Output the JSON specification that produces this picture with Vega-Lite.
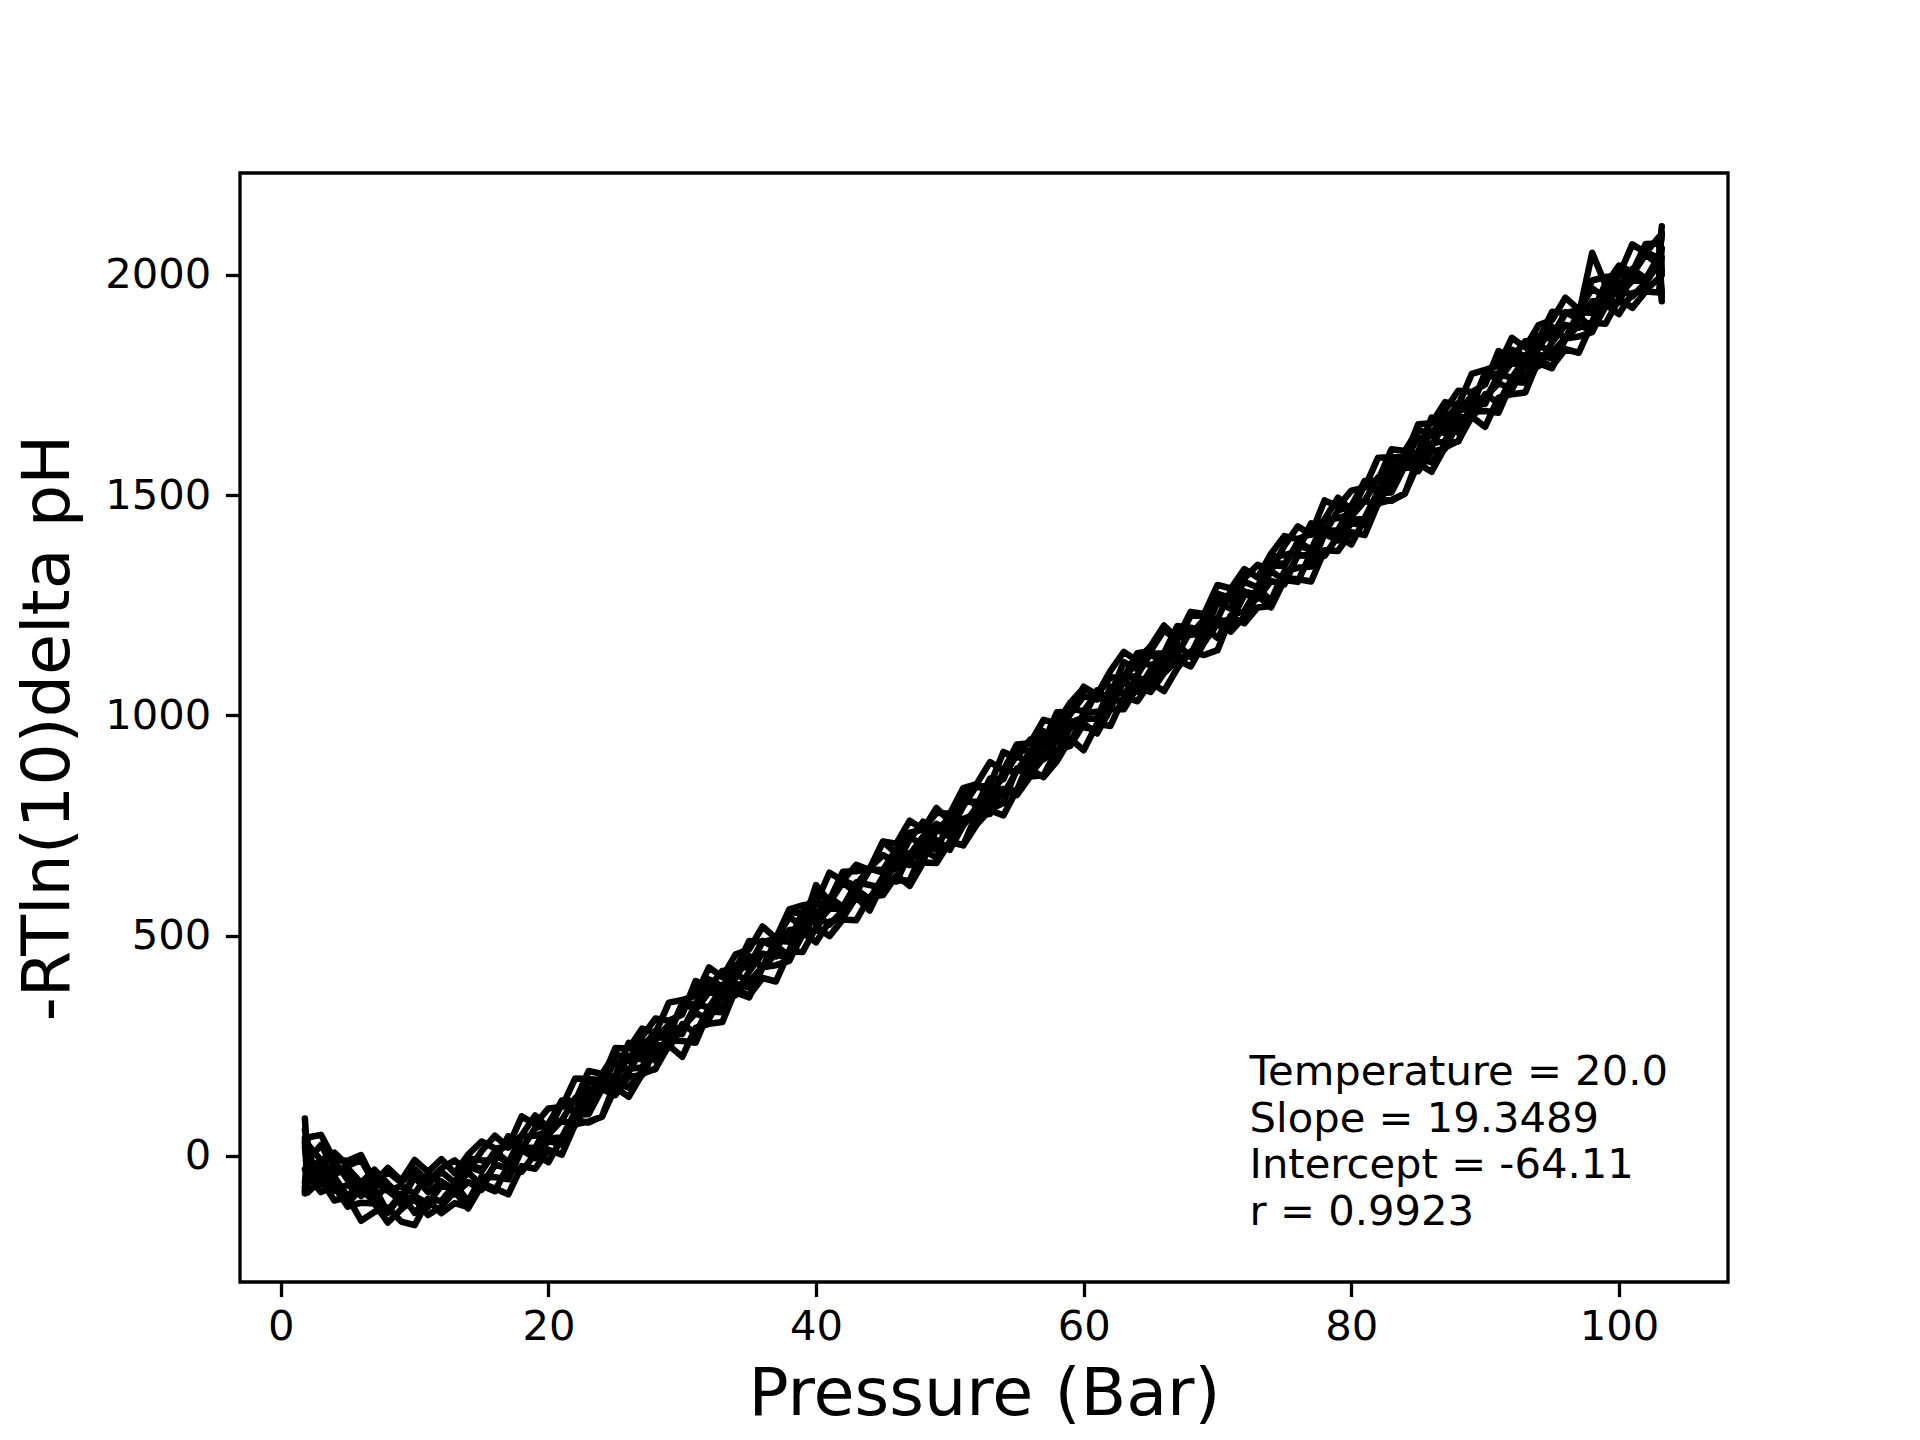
{
  "$schema": "https://vega.github.io/schema/vega-lite/v6.json",
  "width": 1488,
  "height": 1109,
  "autosize": {"type": "none"},
  "padding": {"left": 240, "top": 173, "right": 192, "bottom": 158},
  "background": "white",
  "config": {
    "view": {"stroke": "black", "strokeWidth": 3.3},
    "font": "DejaVu Sans",
    "axis": {
      "domain": false,
      "grid": false,
      "ticks": true,
      "tickColor": "black",
      "tickSize": 14.6,
      "tickWidth": 3.3,
      "labelFont": "DejaVu Sans",
      "labelFontSize": 41.7,
      "labelColor": "black",
      "labelPadding": 14.6,
      "titleFont": "DejaVu Sans",
      "titleFontSize": 66.7,
      "titleFontWeight": "normal",
      "titleColor": "black"
    }
  },
  "data": {
    "values": [
      {"x": 1.8, "a": -80, "b": 40, "c": 85, "d": -60, "e": 20, "f": -85, "g": 60, "h": -30, "i": 30, "j": -70},
      {"x": 2, "a": 42, "b": -83, "c": -12, "d": -23, "e": -26, "f": 6, "g": 27, "h": -45, "i": -27, "j": -43},
      {"x": 3, "a": 48, "b": -54, "c": 25, "d": -64, "e": -14, "f": -48, "g": -10, "h": -82, "i": -12, "j": -18},
      {"x": 4, "a": -9, "b": -101, "c": -28, "d": -59, "e": -42, "f": -47, "g": 8, "h": -69, "i": -11, "j": -79},
      {"x": 5, "a": -11, "b": -93, "c": -28, "d": -107, "e": -27, "f": -92, "g": -22, "h": -115, "i": -54, "j": -65},
      {"x": 6, "a": 2, "b": -147, "c": -61, "d": -75, "e": -90, "f": -60, "g": -9, "h": -106, "i": -77, "j": -90},
      {"x": 7, "a": -59, "b": -127, "c": -31, "d": -104, "e": -58, "f": -95, "g": -63, "h": -108, "i": -35, "j": -72},
      {"x": 8, "a": -27, "b": -117, "c": -63, "d": -124, "e": -79, "f": -69, "g": -36, "h": -151, "i": -79, "j": -129},
      {"x": 9, "a": -56, "b": -149, "c": -93, "d": -86, "e": -101, "f": -111, "g": -60, "h": -121, "i": -68, "j": -89},
      {"x": 10, "a": -9, "b": -157, "c": -43, "d": -129, "e": -48, "f": -91, "g": -29, "h": -97, "i": -86, "j": -101},
      {"x": 11, "a": -36, "b": -100, "c": -64, "d": -97, "e": -82, "f": -108, "g": -57, "h": -134, "i": -41, "j": -116},
      {"x": 12, "a": -7, "b": -130, "c": -36, "d": -102, "e": -58, "f": -67, "g": -28, "h": -115, "i": -59, "j": -58},
      {"x": 13, "a": -39, "b": -107, "c": -61, "d": -64, "e": -80, "f": -74, "g": -10, "h": -80, "i": -77, "j": -87},
      {"x": 14, "a": 3, "b": -116, "c": -5, "d": -103, "e": -24, "f": -37, "g": -35, "h": -119, "i": -18, "j": -59},
      {"x": 15, "a": 33, "b": -62, "c": -10, "d": -47, "e": -35, "f": -67, "g": 11, "h": -67, "i": -30, "j": -77},
      {"x": 16, "a": 17, "b": -74, "c": -10, "d": -48, "e": 11, "f": -20, "g": 46, "h": -80, "i": 4, "j": -19},
      {"x": 17, "a": 21, "b": -87, "c": 45, "d": -53, "e": -14, "f": -27, "g": 19, "h": -21, "i": -16, "j": -29},
      {"x": 18, "a": 90, "b": -23, "c": 16, "d": 14, "e": 20, "f": 18, "g": 47, "h": -36, "i": 45, "j": 20},
      {"x": 19, "a": 72, "b": -29, "c": 63, "d": -5, "e": 18, "f": 5, "g": 92, "h": 5, "i": 46, "j": 0},
      {"x": 20, "a": 108, "b": 14, "c": 73, "d": 34, "e": 74, "f": 49, "g": 64, "h": -14, "i": 55, "j": 40},
      {"x": 21, "a": 111, "b": 3, "c": 125, "d": 26, "e": 81, "f": 81, "g": 126, "h": 40, "i": 119, "j": 42},
      {"x": 22, "a": 176, "b": 72, "c": 99, "d": 95, "e": 131, "f": 69, "g": 124, "h": 81, "i": 98, "j": 100},
      {"x": 23, "a": 175, "b": 78, "c": 166, "d": 95, "e": 112, "f": 126, "g": 193, "h": 76, "i": 150, "j": 108},
      {"x": 24, "a": 172, "b": 89, "c": 176, "d": 152, "e": 170, "f": 172, "g": 186, "h": 90, "i": 162, "j": 158},
      {"x": 25, "a": 245, "b": 155, "c": 182, "d": 138, "e": 174, "f": 156, "g": 233, "h": 168, "i": 216, "j": 140},
      {"x": 26, "a": 244, "b": 134, "c": 257, "d": 180, "e": 227, "f": 192, "g": 216, "h": 155, "i": 190, "j": 198},
      {"x": 27, "a": 289, "b": 186, "c": 243, "d": 183, "e": 219, "f": 242, "g": 271, "h": 193, "i": 257, "j": 201},
      {"x": 28, "a": 279, "b": 198, "c": 284, "d": 241, "e": 265, "f": 216, "g": 312, "h": 197, "i": 267, "j": 254},
      {"x": 29, "a": 348, "b": 251, "c": 277, "d": 249, "e": 298, "f": 279, "g": 307, "h": 262, "i": 272, "j": 246},
      {"x": 30, "a": 354, "b": 225, "c": 346, "d": 299, "e": 286, "f": 277, "g": 321, "h": 261, "i": 347, "j": 292},
      {"x": 31, "a": 364, "b": 291, "c": 345, "d": 279, "e": 342, "f": 345, "g": 397, "h": 257, "i": 332, "j": 324},
      {"x": 32, "a": 428, "b": 300, "c": 401, "d": 336, "e": 387, "f": 337, "g": 383, "h": 328, "i": 372, "j": 311},
      {"x": 33, "a": 406, "b": 304, "c": 385, "d": 338, "e": 369, "f": 382, "g": 420, "h": 326, "i": 364, "j": 367},
      {"x": 34, "a": 458, "b": 379, "c": 427, "d": 391, "e": 405, "f": 365, "g": 424, "h": 371, "i": 433, "j": 413},
      {"x": 35, "a": 469, "b": 364, "c": 429, "d": 382, "e": 454, "f": 419, "g": 488, "h": 360, "i": 432, "j": 395},
      {"x": 36, "a": 521, "b": 404, "c": 486, "d": 427, "e": 427, "f": 459, "g": 486, "h": 428, "i": 488, "j": 430},
      {"x": 37, "a": 494, "b": 396, "c": 493, "d": 459, "e": 489, "f": 453, "g": 482, "h": 433, "i": 472, "j": 479},
      {"x": 38, "a": 560, "b": 464, "c": 542, "d": 446, "e": 486, "f": 466, "g": 553, "h": 443, "i": 513, "j": 452},
      {"x": 39, "a": 569, "b": 463, "c": 522, "d": 502, "e": 554, "f": 542, "g": 551, "h": 507, "i": 515, "j": 514},
      {"x": 40, "a": 573, "b": 519, "c": 615, "d": 547, "e": 546, "f": 528, "g": 595, "h": 485, "i": 572, "j": 511},
      {"x": 41, "a": 643, "b": 499, "c": 577, "d": 525, "e": 587, "f": 561, "g": 580, "h": 532, "i": 575, "j": 575},
      {"x": 42, "a": 625, "b": 537, "c": 626, "d": 557, "e": 566, "f": 561, "g": 645, "h": 540, "i": 621, "j": 564},
      {"x": 43, "a": 661, "b": 535, "c": 613, "d": 602, "e": 616, "f": 621, "g": 646, "h": 588, "i": 597, "j": 605},
      {"x": 44, "a": 649, "b": 588, "c": 654, "d": 571, "e": 652, "f": 615, "g": 652, "h": 557, "i": 650, "j": 583},
      {"x": 45, "a": 714, "b": 592, "c": 683, "d": 630, "e": 643, "f": 608, "g": 713, "h": 620, "i": 649, "j": 634},
      {"x": 46, "a": 709, "b": 637, "c": 666, "d": 623, "e": 652, "f": 675, "g": 687, "h": 625, "i": 697, "j": 670},
      {"x": 47, "a": 761, "b": 613, "c": 718, "d": 687, "e": 724, "f": 669, "g": 734, "h": 625, "i": 684, "j": 660},
      {"x": 48, "a": 741, "b": 666, "c": 759, "d": 675, "e": 706, "f": 709, "g": 741, "h": 695, "i": 725, "j": 669},
      {"x": 49, "a": 779, "b": 665, "c": 738, "d": 717, "e": 740, "f": 695, "g": 790, "h": 677, "i": 754, "j": 742},
      {"x": 50, "a": 777, "b": 713, "c": 769, "d": 695, "e": 739, "f": 759, "g": 759, "h": 713, "i": 737, "j": 724},
      {"x": 51, "a": 835, "b": 705, "c": 819, "d": 750, "e": 804, "f": 765, "g": 826, "h": 706, "i": 794, "j": 762},
      {"x": 52, "a": 844, "b": 752, "c": 794, "d": 792, "e": 804, "f": 777, "g": 837, "h": 776, "i": 841, "j": 767},
      {"x": 53, "a": 894, "b": 785, "c": 857, "d": 787, "e": 801, "f": 842, "g": 842, "h": 776, "i": 824, "j": 832},
      {"x": 54, "a": 875, "b": 773, "c": 855, "d": 801, "e": 873, "f": 821, "g": 917, "h": 833, "i": 860, "j": 831},
      {"x": 55, "a": 934, "b": 831, "c": 925, "d": 879, "e": 873, "f": 874, "g": 904, "h": 819, "i": 911, "j": 829},
      {"x": 56, "a": 937, "b": 877, "c": 918, "d": 866, "e": 918, "f": 886, "g": 945, "h": 861, "i": 885, "j": 901},
      {"x": 57, "a": 990, "b": 860, "c": 964, "d": 904, "e": 908, "f": 939, "g": 938, "h": 864, "i": 948, "j": 900},
      {"x": 58, "a": 982, "b": 896, "c": 947, "d": 908, "e": 977, "f": 913, "g": 1007, "h": 922, "i": 946, "j": 945},
      {"x": 59, "a": 1029, "b": 947, "c": 1003, "d": 974, "e": 984, "f": 981, "g": 1008, "h": 931, "i": 1016, "j": 936},
      {"x": 60, "a": 1062, "b": 921, "c": 1044, "d": 973, "e": 995, "f": 991, "g": 1065, "h": 981, "i": 1009, "j": 1005},
      {"x": 61, "a": 1047, "b": 981, "c": 1036, "d": 967, "e": 1057, "f": 993, "g": 1047, "h": 959, "i": 1052, "j": 1008},
      {"x": 62, "a": 1101, "b": 976, "c": 1047, "d": 1036, "e": 1033, "f": 1065, "g": 1086, "h": 1014, "i": 1032, "j": 1016},
      {"x": 63, "a": 1144, "b": 1042, "c": 1121, "d": 1032, "e": 1082, "f": 1048, "g": 1086, "h": 1014, "i": 1084, "j": 1078},
      {"x": 64, "a": 1124, "b": 1032, "c": 1105, "d": 1074, "e": 1091, "f": 1086, "g": 1141, "h": 1064, "i": 1122, "j": 1054},
      {"x": 65, "a": 1157, "b": 1075, "c": 1140, "d": 1061, "e": 1141, "f": 1076, "g": 1146, "h": 1053, "i": 1114, "j": 1103},
      {"x": 66, "a": 1204, "b": 1055, "c": 1141, "d": 1127, "e": 1112, "f": 1142, "g": 1193, "h": 1096, "i": 1125, "j": 1112},
      {"x": 67, "a": 1175, "b": 1107, "c": 1203, "d": 1130, "e": 1176, "f": 1139, "g": 1171, "h": 1126, "i": 1199, "j": 1162},
      {"x": 68, "a": 1235, "b": 1145, "c": 1199, "d": 1138, "e": 1183, "f": 1193, "g": 1226, "h": 1111, "i": 1183, "j": 1133},
      {"x": 69, "a": 1230, "b": 1137, "c": 1193, "d": 1200, "e": 1185, "f": 1175, "g": 1226, "h": 1165, "i": 1218, "j": 1197},
      {"x": 70, "a": 1296, "b": 1148, "c": 1262, "d": 1176, "e": 1257, "f": 1214, "g": 1276, "h": 1208, "i": 1219, "j": 1204},
      {"x": 71, "a": 1288, "b": 1224, "c": 1260, "d": 1227, "e": 1242, "f": 1216, "g": 1267, "h": 1190, "i": 1283, "j": 1208},
      {"x": 72, "a": 1332, "b": 1209, "c": 1303, "d": 1237, "e": 1281, "f": 1272, "g": 1311, "h": 1224, "i": 1280, "j": 1281},
      {"x": 73, "a": 1313, "b": 1245, "c": 1291, "d": 1288, "e": 1272, "f": 1278, "g": 1342, "h": 1272, "i": 1275, "j": 1265},
      {"x": 74, "a": 1367, "b": 1248, "c": 1359, "d": 1261, "e": 1340, "f": 1327, "g": 1329, "h": 1245, "i": 1346, "j": 1305},
      {"x": 75, "a": 1407, "b": 1312, "c": 1364, "d": 1327, "e": 1339, "f": 1307, "g": 1385, "h": 1307, "i": 1344, "j": 1297},
      {"x": 76, "a": 1400, "b": 1309, "c": 1373, "d": 1335, "e": 1394, "f": 1363, "g": 1429, "h": 1303, "i": 1387, "j": 1364},
      {"x": 77, "a": 1412, "b": 1304, "c": 1436, "d": 1338, "e": 1377, "f": 1364, "g": 1410, "h": 1370, "i": 1375, "j": 1362},
      {"x": 78, "a": 1488, "b": 1375, "c": 1414, "d": 1412, "e": 1418, "f": 1416, "g": 1445, "h": 1362, "i": 1443, "j": 1418},
      {"x": 79, "a": 1474, "b": 1373, "c": 1465, "d": 1397, "e": 1420, "f": 1407, "g": 1494, "h": 1407, "i": 1448, "j": 1402},
      {"x": 80, "a": 1510, "b": 1416, "c": 1475, "d": 1436, "e": 1476, "f": 1451, "g": 1466, "h": 1388, "i": 1457, "j": 1442},
      {"x": 81, "a": 1517, "b": 1409, "c": 1531, "d": 1432, "e": 1487, "f": 1487, "g": 1532, "h": 1446, "i": 1525, "j": 1448},
      {"x": 82, "a": 1585, "b": 1481, "c": 1508, "d": 1504, "e": 1540, "f": 1478, "g": 1533, "h": 1490, "i": 1507, "j": 1509},
      {"x": 83, "a": 1586, "b": 1489, "c": 1577, "d": 1506, "e": 1523, "f": 1537, "g": 1604, "h": 1487, "i": 1561, "j": 1519},
      {"x": 84, "a": 1586, "b": 1503, "c": 1590, "d": 1566, "e": 1584, "f": 1586, "g": 1600, "h": 1504, "i": 1576, "j": 1572},
      {"x": 85, "a": 1661, "b": 1571, "c": 1598, "d": 1554, "e": 1590, "f": 1572, "g": 1649, "h": 1584, "i": 1632, "j": 1556},
      {"x": 86, "a": 1663, "b": 1553, "c": 1676, "d": 1599, "e": 1646, "f": 1611, "g": 1635, "h": 1574, "i": 1609, "j": 1617},
      {"x": 87, "a": 1711, "b": 1608, "c": 1665, "d": 1605, "e": 1641, "f": 1664, "g": 1693, "h": 1615, "i": 1679, "j": 1623},
      {"x": 88, "a": 1704, "b": 1623, "c": 1709, "d": 1666, "e": 1690, "f": 1641, "g": 1737, "h": 1622, "i": 1692, "j": 1679},
      {"x": 89, "a": 1775, "b": 1678, "c": 1704, "d": 1676, "e": 1725, "f": 1706, "g": 1734, "h": 1689, "i": 1699, "j": 1673},
      {"x": 90, "a": 1784, "b": 1655, "c": 1776, "d": 1729, "e": 1716, "f": 1707, "g": 1751, "h": 1691, "i": 1777, "j": 1722},
      {"x": 91, "a": 1794, "b": 1721, "c": 1775, "d": 1709, "e": 1772, "f": 1775, "g": 1827, "h": 1687, "i": 1762, "j": 1754},
      {"x": 92, "a": 1857, "b": 1729, "c": 1830, "d": 1765, "e": 1816, "f": 1766, "g": 1812, "h": 1757, "i": 1801, "j": 1740},
      {"x": 93, "a": 1835, "b": 1733, "c": 1814, "d": 1767, "e": 1798, "f": 1811, "g": 1849, "h": 1755, "i": 1793, "j": 1796},
      {"x": 94, "a": 1886, "b": 1807, "c": 1855, "d": 1819, "e": 1833, "f": 1793, "g": 1852, "h": 1799, "i": 1861, "j": 1841},
      {"x": 95, "a": 1897, "b": 1792, "c": 1857, "d": 1810, "e": 1882, "f": 1847, "g": 1916, "h": 1788, "i": 1860, "j": 1823},
      {"x": 96, "a": 1948, "b": 1831, "c": 1913, "d": 1854, "e": 1854, "f": 1886, "g": 1913, "h": 1855, "i": 1915, "j": 1857},
      {"x": 97, "a": 1921, "b": 1823, "c": 1920, "d": 1886, "e": 1916, "f": 1880, "g": 1909, "h": 1860, "i": 1899, "j": 1906},
      {"x": 98, "a": 1987, "b": 1891, "c": 1969, "d": 1873, "e": 1913, "f": 1893, "g": 2050, "h": 1870, "i": 1940, "j": 1879},
      {"x": 99, "a": 1995, "b": 1889, "c": 1948, "d": 1928, "e": 1980, "f": 1968, "g": 1977, "h": 1933, "i": 1941, "j": 1940},
      {"x": 100, "a": 1999, "b": 1945, "c": 2005, "d": 1973, "e": 1972, "f": 1954, "g": 2021, "h": 1911, "i": 1998, "j": 1937},
      {"x": 101, "a": 2069, "b": 1925, "c": 2003, "d": 1951, "e": 2013, "f": 1987, "g": 2006, "h": 1958, "i": 2001, "j": 2001},
      {"x": 102, "a": 2050, "b": 1962, "c": 2051, "d": 1982, "e": 1991, "f": 1986, "g": 2070, "h": 1965, "i": 2046, "j": 1989},
      {"x": 103, "a": 2086, "b": 1960, "c": 2038, "d": 2027, "e": 2041, "f": 2046, "g": 2071, "h": 1993, "i": 2022, "j": 2030},
      {"x": 103.2, "a": 2000, "b": 2040, "c": 2110, "d": 1940, "e": 2090, "f": 1960, "g": 2010, "h": 2060, "i": 1950, "j": 2095}
    ]
  },
  "layer": [
    {
      "transform": [{"fold": ["a", "b", "c", "d", "e", "f", "g", "h", "i", "j"], "as": ["run", "y"]}],
      "mark": {"type": "line", "color": "black", "strokeWidth": 6.5, "strokeJoin": "round", "strokeCap": "round"},
      "encoding": {
        "x": {
          "field": "x",
          "type": "quantitative",
          "scale": {"domain": [-3.05, 108.15], "nice": false, "zero": false},
          "axis": {"title": "Pressure (Bar)", "values": [0, 20, 40, 60, 80, 100], "labelPadding": 10, "titlePadding": 13}
        },
        "y": {
          "field": "y",
          "type": "quantitative",
          "scale": {"domain": [-286, 2231], "nice": false, "zero": false},
          "axis": {"title": "-RTln(10)delta pH", "values": [0, 500, 1000, 1500, 2000], "format": "d", "titlePadding": 22}
        },
        "detail": {"field": "run", "type": "nominal"}
      }
    },
    {
      "data": {"values": [{"px": 72.4, "py": 161, "txt": ["Temperature = 20.0", "Slope = 19.3489", "Intercept = -64.11", "r = 0.9923"]}]},
      "mark": {"type": "text", "align": "left", "baseline": "alphabetic", "font": "DejaVu Sans", "fontSize": 41.7, "lineHeight": 46.5, "color": "black"},
      "encoding": {
        "x": {"field": "px", "type": "quantitative"},
        "y": {"field": "py", "type": "quantitative"},
        "text": {"field": "txt"}
      }
    }
  ]
}
